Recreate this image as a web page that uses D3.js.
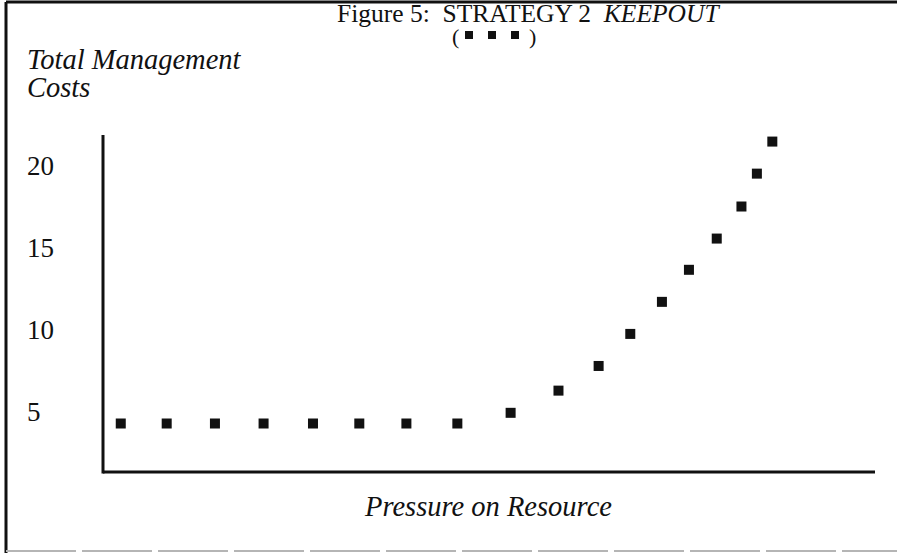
<!DOCTYPE html>
<html>
<head>
<meta charset="utf-8">
<script src="https://cdn.jsdelivr.net/npm/d3@7"></script>
<style>
  body { margin: 0; background: #fff; }
  svg text { font-family: "Liberation Serif", "Times New Roman", serif; fill: #111; }
</style>
</head>
<body>
<div id="chart"></div>
<script>
// pressure on resource (relative units) and total management costs
const pressure = [2.3, 8.25, 14.5, 20.8, 27.2, 33.2, 39.3, 45.9, 52.8, 59.0, 64.2, 68.3, 72.4, 75.9, 79.5, 82.7, 84.7, 86.7];
const costs = [4.25, 4.25, 4.25, 4.25, 4.25, 4.25, 4.25, 4.25, 4.9, 6.25, 7.75, 9.7, 11.65, 13.6, 15.5, 17.45, 19.45, 21.4];
const yTicks = [5, 10, 15, 20];

const width = 897, height = 553;
const margin = { top: 135, right: 22, bottom: 81, left: 103 };

const svg = d3.select('#chart').append('svg')
    .attr('width', width)
    .attr('height', height);

// frame around the figure
svg.append('line').attr('x1', 6).attr('x2', width).attr('y1', 2).attr('y2', 2)
    .attr('stroke', '#111').attr('stroke-width', 3);
svg.append('line').attr('x1', 6).attr('x2', 6).attr('y1', 2).attr('y2', height)
    .attr('stroke', '#111').attr('stroke-width', 3);
svg.append('line').attr('x1', 6).attr('x2', width).attr('y1', 551).attr('y2', 551)
    .attr('stroke', '#b5b5b5').attr('stroke-width', 2).attr('stroke-dasharray', '70,6');

const xScale = d3.scaleLinear().domain([0, 100]).range([margin.left, width - margin.right]);
const yScale = d3.scaleLinear().domain([1.3, 21.8]).range([height - margin.bottom, margin.top]);

// axes: plain lines, tick labels only on y
const yAxis = d3.axisLeft(yScale).tickValues(yTicks).tickSize(0).tickPadding(0);
const gy = svg.append('g')
    .attr('transform', `translate(${margin.left},0)`)
    .call(yAxis);
gy.select('.domain').remove();
gy.selectAll('text')
    .attr('x', 27 - margin.left)
    .attr('text-anchor', 'start')
    .attr('dy', '0.35em')
    .style('font-size', '27px')
    .style('font-family', '"Liberation Serif", serif');

svg.append('line')
    .attr('x1', margin.left).attr('x2', margin.left)
    .attr('y1', yScale.range()[1]).attr('y2', yScale.range()[0] + 1.5)
    .attr('stroke', '#111').attr('stroke-width', 3);
svg.append('line')
    .attr('x1', margin.left).attr('x2', xScale.range()[1])
    .attr('y1', yScale.range()[0]).attr('y2', yScale.range()[0])
    .attr('stroke', '#111').attr('stroke-width', 3);

// data points
const size = 10;
svg.selectAll('.pt')
    .data(pressure.map((p, i) => ({ p, c: costs[i] })))
    .enter().append('rect')
    .attr('class', 'pt')
    .attr('x', d => xScale(d.p) - size / 2)
    .attr('y', d => yScale(d.c) - size / 2)
    .attr('width', size)
    .attr('height', size)
    .attr('fill', '#111');

// title
const title = svg.append('text')
    .attr('x', 337).attr('y', 22)
    .attr('xml:space', 'preserve')
    .style('font-size', '25.5px');
title.append('tspan').text('Figure 5:  STRATEGY 2  ');
title.append('tspan').style('font-style', 'italic').text('KEEPOUT');

// legend ( ■ ■ ■ )
svg.append('text').attr('x', 452).attr('y', 44).style('font-size', '22px').text('(');
svg.append('text').attr('x', 529).attr('y', 44).style('font-size', '22px').text(')');
svg.selectAll('.leg').data([0, 1, 2]).enter().append('rect')
    .attr('x', d => 465 + d * 23)
    .attr('y', 31)
    .attr('width', 8).attr('height', 8)
    .attr('fill', '#111');

// axis titles
svg.append('text').attr('x', 27).attr('y', 69)
    .style('font-size', '28.5px').style('font-style', 'italic')
    .text('Total Management');
svg.append('text').attr('x', 27).attr('y', 97)
    .style('font-size', '28.5px').style('font-style', 'italic')
    .text('Costs');
svg.append('text').attr('x', 365).attr('y', 516)
    .style('font-size', '28.5px').style('font-style', 'italic')
    .text('Pressure on Resource');
</script>
</body>
</html>
